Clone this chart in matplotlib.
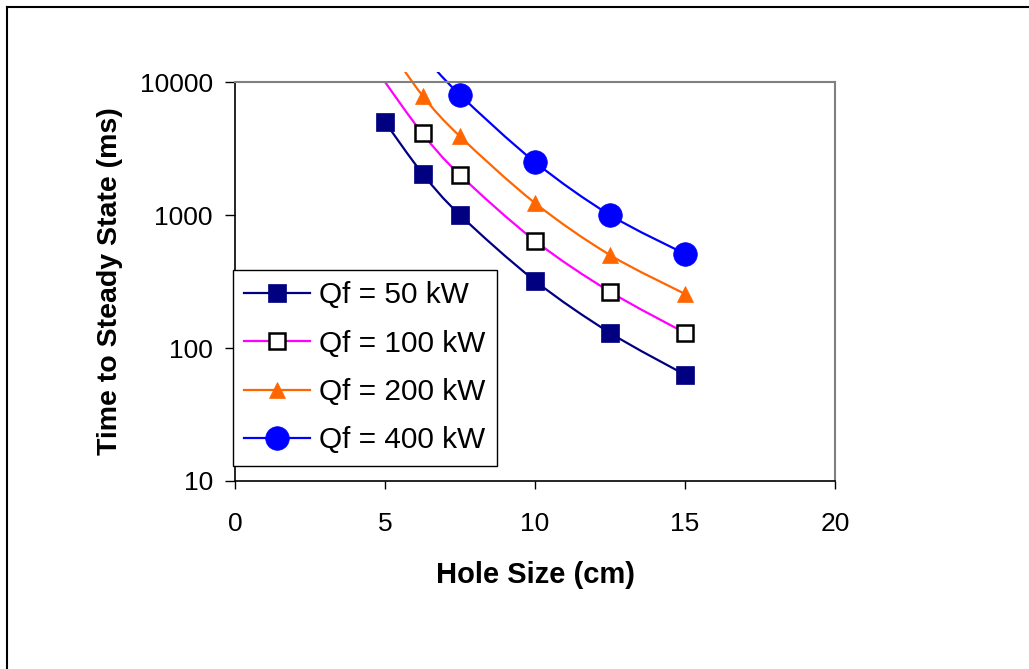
import numpy as np
import matplotlib
matplotlib.use("Agg")
import matplotlib.pyplot as plt
from matplotlib.path import Path
from matplotlib.patches import PathPatch, Rectangle
from matplotlib.lines import Line2D

plt.rcParams['font.family'] = ['Liberation Sans', 'DejaVu Sans']

# data (hole size in cm, time in ms)
hole = [5, 6.25, 7.5, 10, 12.5, 15]
hole_400 = [6.25, 7.5, 10, 12.5, 15]
t_50 = [5000, 2050, 1000, 320, 130, 63]
t_100 = [10000, 4100, 2000, 640, 265, 130]
t_200 = [20000, 7900, 3900, 1230, 500, 255]
t_400 = [16000, 8000, 2500, 1000, 510]

labels = ["Qf = 50 kW", "Qf = 100 kW", "Qf = 200 kW", "Qf = 400 kW"]
x_ticks = [0, 5, 10, 15, 20]
y_ticks = [10, 100, 1000, 10000]
y_ticklabels = ["10", "100", "1000", "10000"]

series = [
    # x, y, line colour, marker, marker size, face, edge
    (hole, t_50, "#000080", "s", 13.5, "#000080", "#000080"),
    (hole, t_100, "#FF00FF", "s", 12, "white", "black"),
    (hole, t_200, "#FF6600", "^", 12, "#FF6600", "#FF6600"),
    (hole_400, t_400, "#0000FF", "o", 17, "#0000FF", "#0000FF"),
]


def smooth_path(x, y):
    # excel style smoothed line: cubic bezier through the points (in log y)
    px = np.asarray(x, float)
    py = np.log10(np.asarray(y, float))
    n = len(px)
    verts = [(px[0], py[0])]
    codes = [Path.MOVETO]
    for i in range(n - 1):
        a = i - 1 if i > 0 else i
        b = i + 2 if i + 2 < n else i + 1
        c1 = (px[i] + (px[i + 1] - px[a]) / 6, py[i] + (py[i + 1] - py[a]) / 6)
        c2 = (px[i + 1] - (px[b] - px[i]) / 6, py[i + 1] - (py[b] - py[i]) / 6)
        verts += [c1, c2, (px[i + 1], py[i + 1])]
        codes += [Path.CURVE4] * 3
    verts = [(vx, 10 ** vy) for vx, vy in verts]
    return Path(verts, codes)


W, H = 1029, 669
fig = plt.figure(figsize=(W / 100, H / 100), dpi=100)
ax = fig.add_axes([235 / W, 1 - 481 / H, 600 / W, 399 / H])

ax.set_xlim(0, 20)
ax.set_yscale("log")
ax.set_ylim(10, 10000)

clip = Rectangle((0, 0), 1, 1.026, transform=ax.transAxes, visible=False)
ax.add_patch(clip)

handles = []
for (x, y, col, mk, ms, fc, ec), lab in zip(series, labels):
    patch = PathPatch(smooth_path(x, y), facecolor="none", edgecolor=col, lw=1.6,
                      transform=ax.transData, zorder=2)
    ax.add_patch(patch)
    patch.set_clip_path(clip)
    y_arr = np.asarray(y, float)
    ym = np.where(y_arr < 10000, y_arr, np.nan)
    ax.plot(x, ym, linestyle="none", marker=mk, markersize=ms, markerfacecolor=fc,
            markeredgecolor=ec, markeredgewidth=1.8 if fc == "white" else 0.5,
            zorder=3, clip_on=False)
    handles.append(Line2D([], [], color=col, lw=1.6, marker=mk, markersize=ms,
                          markerfacecolor=fc, markeredgecolor=ec,
                          markeredgewidth=1.8 if fc == "white" else 0.5))

ax.set_xticks(x_ticks)
ax.set_yticks(y_ticks)
ax.set_yticklabels(y_ticklabels)
ax.minorticks_off()
ax.tick_params(axis="y", direction="out", length=7, width=1, pad=9, labelsize=19)
ax.tick_params(axis="x", direction="out", length=6, width=1, pad=16, labelsize=19)

for s in ["left", "bottom"]:
    ax.spines[s].set_color("black")
    ax.spines[s].set_linewidth(1.2)
for s in ["top", "right"]:
    ax.spines[s].set_color("#808080")
    ax.spines[s].set_linewidth(1.5)

ax.set_xlabel("Hole Size (cm)", fontsize=21, fontweight="bold", labelpad=18)
ax.set_ylabel("Time to Steady State (ms)", fontsize=20.5, fontweight="bold", labelpad=12)

leg = ax.legend(handles, labels, loc="upper left", bbox_to_anchor=(233 / W, 1 - 270 / H),
                bbox_transform=fig.transFigure, borderaxespad=0, fontsize=21.5,
                frameon=True, fancybox=False, edgecolor="black", framealpha=1,
                handlelength=2.2, handletextpad=0.3, borderpad=0.38, labelspacing=0.68)
leg.get_frame().set_linewidth(1.0)
leg.set_zorder(5)

# outer chart border
fig.add_artist(Line2D([7 / W, 7 / W], [1 - 7 / H, 0], color="black", lw=1.5,
                      transform=fig.transFigure))
fig.add_artist(Line2D([7 / W, 1], [1 - 7 / H, 1 - 7 / H], color="black", lw=1.5,
                      transform=fig.transFigure))

fig.savefig("out.png", dpi=100)
